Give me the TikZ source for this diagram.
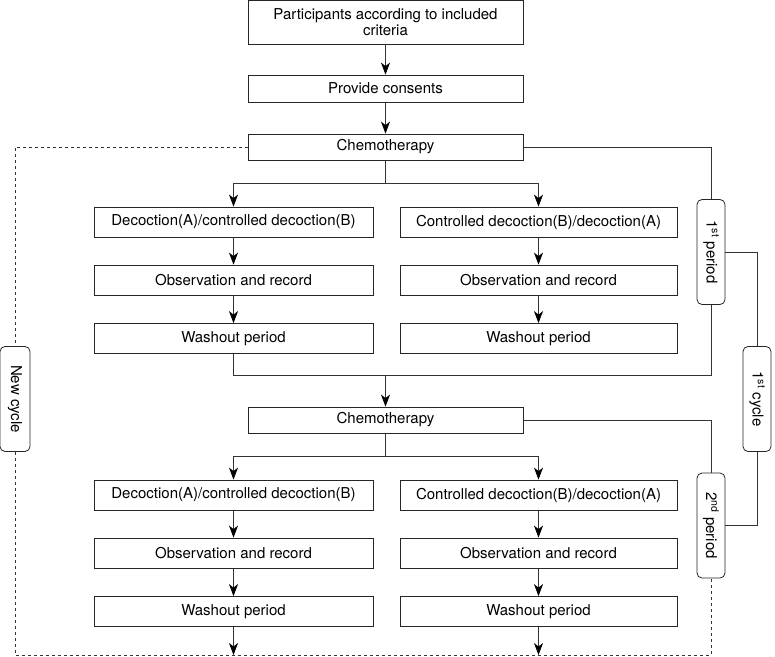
\documentclass[tikz,border=0pt]{standalone}
\usepackage{fontspec}
\setmainfont{TeX Gyre Heros}
\usetikzlibrary{arrows.meta}

\tikzstyle{step box} = [draw=black!85, line width=0.8pt, minimum width=275pt, minimum height=30pt, inner sep=2pt, align=center, font=\fontsize{15}{16.5}\selectfont]
\tikzstyle{side box} = [draw=black!85, line width=0.8pt, rounded corners=5pt, rotate=-90, minimum width=105pt, minimum height=28pt, inner sep=2pt, font=\fontsize{15}{16.5}\selectfont]
\tikzstyle{link} = [draw=black!80, line width=0.7pt]
\tikzstyle{arrow} = [link, -{Stealth[length=12pt,width=9pt,inset=3.5pt,color=black]}]

\begin{document}
\begin{tikzpicture}[x=1pt,y=-1pt]
	\useasboundingbox (0,0) rectangle (775,656);

	\node[step box, minimum height=44pt] (part) at (385.5,22) {Participants according to included\\criteria};
	\node[step box, minimum height=27pt] (cons) at (385.5,88.5) {Provide consents};
	\node[step box, minimum height=26pt] (chemo1) at (385.5,147) {Chemotherapy};

	\node[step box, minimum width=279pt] (decA1) at (233.5,222) {Decoction(A)/controlled decoction(B)};
	\node[step box, minimum width=279pt] (obsA1) at (233.5,280) {Observation and record};
	\node[step box, minimum width=279pt] (washA1) at (233.5,338.5) {Washout period};
	\node[step box, minimum width=277pt] (decB1) at (538.5,222) {Controlled decoction(B)/decoction(A)};
	\node[step box, minimum width=277pt] (obsB1) at (538.5,280) {Observation and record};
	\node[step box, minimum width=277pt] (washB1) at (538.5,338.5) {Washout period};

	\node[step box, minimum height=26pt] (chemo2) at (385.5,420) {Chemotherapy};

	\node[step box, minimum width=279pt] (decA2) at (233.5,495) {Decoction(A)/controlled decoction(B)};
	\node[step box, minimum width=279pt] (obsA2) at (233.5,553) {Observation and record};
	\node[step box, minimum width=279pt] (washA2) at (233.5,611.5) {Washout period};
	\node[step box, minimum width=277pt] (decB2) at (538.5,495) {Controlled decoction(B)/decoction(A)};
	\node[step box, minimum width=277pt] (obsB2) at (538.5,553) {Observation and record};
	\node[step box, minimum width=277pt] (washB2) at (538.5,611.5) {Washout period};

	% rotated boxes: west = top, east = bottom, north = right, south = left
	\node[side box] (per1) at (711,252) {1\textsuperscript{st} period};
	\node[side box] (cyc1) at (757,399) {1\textsuperscript{st} cycle};
	\node[side box] (per2) at (711,525.5) {2\textsuperscript{nd} period};
	\node[side box, minimum height=30pt] (newc) at (15,399) {New cycle};

	\coordinate (fork1) at (385.5,183);
	\coordinate (join1) at (385.5,375);
	\coordinate (fork2) at (385.5,456);
	\coordinate (endA) at (233.5,655);
	\coordinate (endB) at (538.5,655);

	\draw[arrow] (part) -- (cons);
	\draw[arrow] (cons) -- (chemo1);

	\draw[link] (chemo1) -- (fork1);
	\draw[arrow] (fork1) -| (decA1);
	\draw[arrow] (fork1) -| (decB1);
	\draw[arrow] (decA1) -- (obsA1);
	\draw[arrow] (obsA1) -- (washA1);
	\draw[arrow] (decB1) -- (obsB1);
	\draw[arrow] (obsB1) -- (washB1);

	\draw[link] (washA1) |- (join1);
	\draw[link] (join1) -| (per1.east);
	\draw[arrow] (join1) -- (chemo2);

	\draw[link] (chemo2) -- (fork2);
	\draw[arrow] (fork2) -| (decA2);
	\draw[arrow] (fork2) -| (decB2);
	\draw[arrow] (decA2) -- (obsA2);
	\draw[arrow] (obsA2) -- (washA2);
	\draw[arrow] (decB2) -- (obsB2);
	\draw[arrow] (obsB2) -- (washB2);
	\draw[arrow] (washA2) -- (endA);
	\draw[arrow] (washB2) -- (endB);

	\draw[link] (chemo1.east) -| (per1.west);
	\draw[link] (chemo2.east) -| (per2.west);
	\draw[link] (per1.north) -| (cyc1.west);
	\draw[link] (cyc1.east) |- (per2.north);

	\draw[link, dashed] (chemo1.west) -| (newc.west);
	\draw[link, dashed] (newc.east) |- (endA) -- (endB) -| (per2.east);
\end{tikzpicture}
\end{document}
